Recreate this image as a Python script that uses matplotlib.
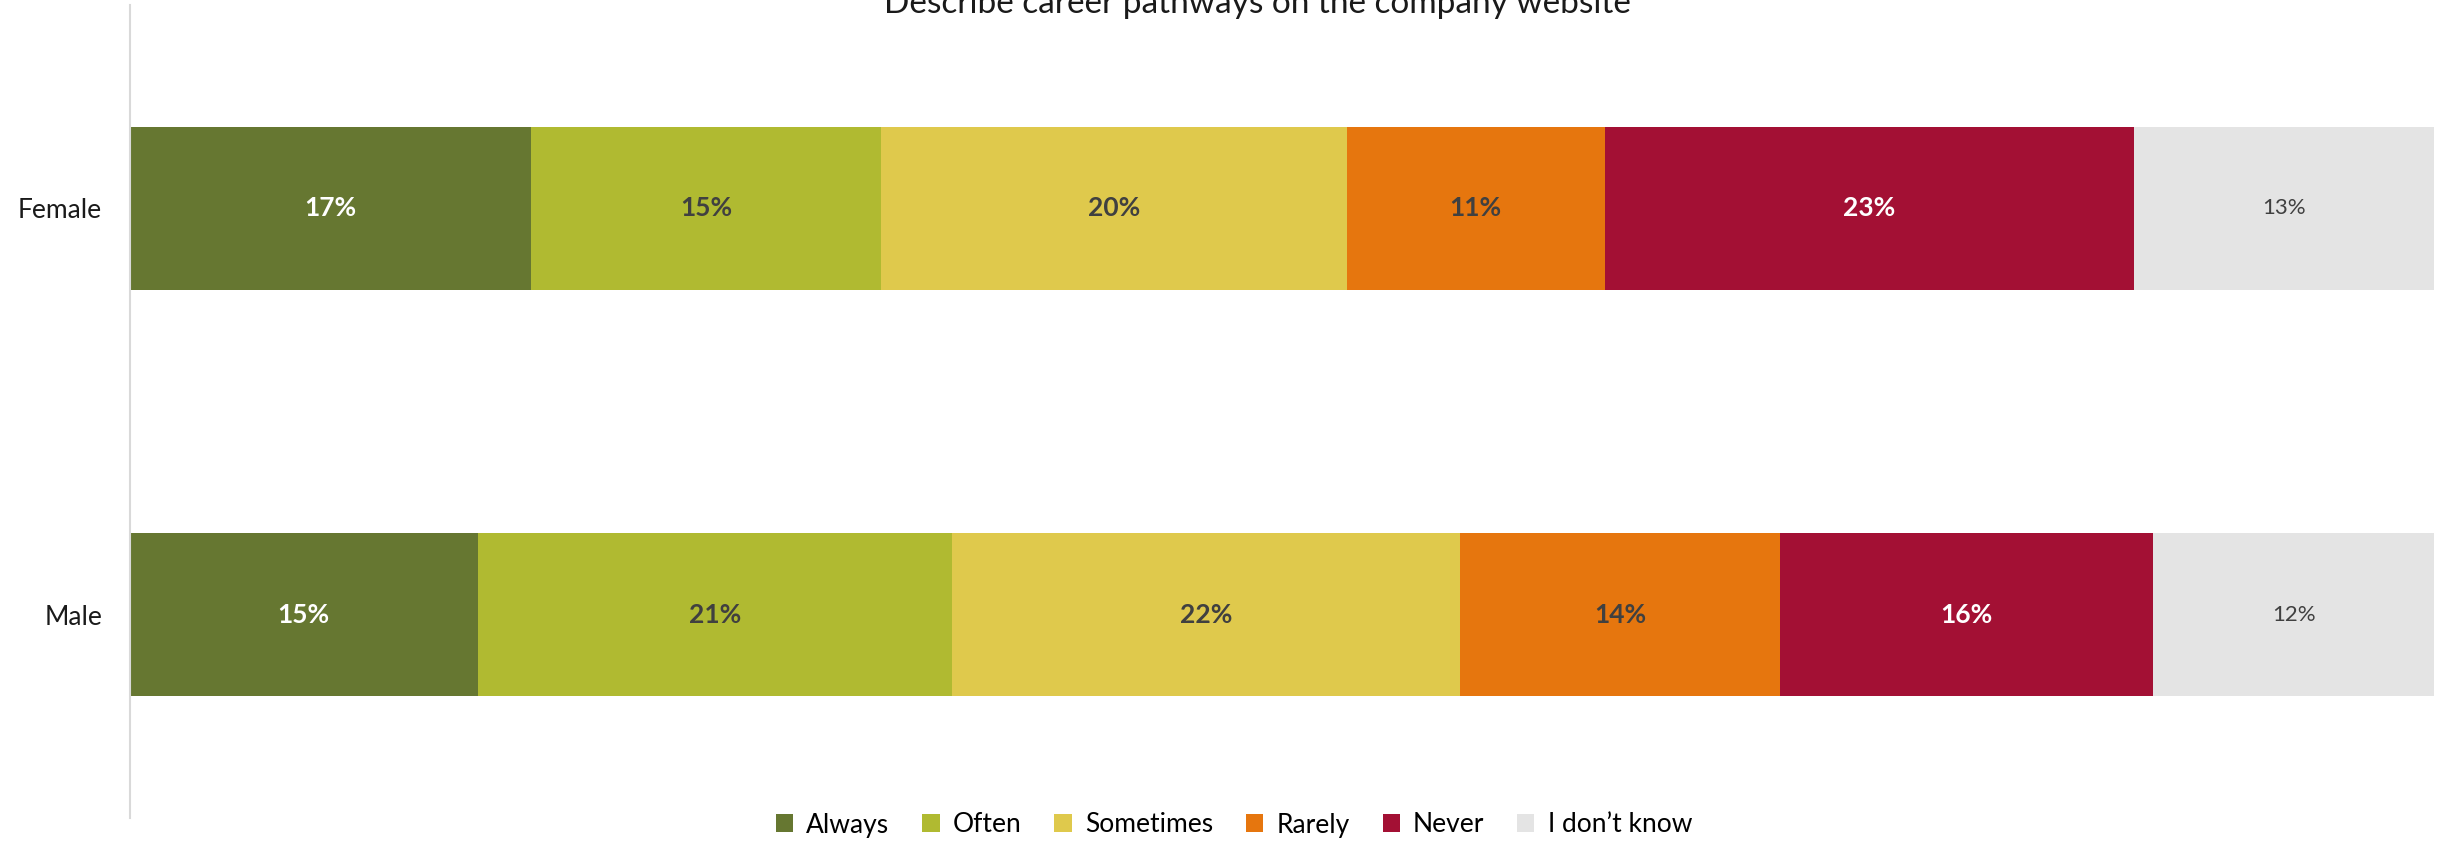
import matplotlib
matplotlib.use("Agg")
import matplotlib.pyplot as plt
import numpy as np

plt.rcParams['font.family'] = ['Lato', 'DejaVu Sans']

title = "Describe career pathways on the company website"
categories = ["Female", "Male"]
series = ["Always", "Often", "Sometimes", "Rarely", "Never", "I don\u2019t know"]
female = [17.4, 15.2, 20.2, 11.2, 23.0, 13.0]
male = [15.1, 20.6, 22.1, 13.9, 16.2, 12.2]
colors = ["#667731", "#B0BA31", "#DFC94C", "#E6760E", "#A31034", "#E4E4E4"]
label_colors = ["white", "#404040", "#404040", "#404040", "white", "#404040"]
label_weights = ["bold", "bold", "bold", "bold", "bold", "normal"]
label_sizes = [19, 19, 19, 19, 19, 16]

data = np.array([female, male])
shares = data / data.sum(axis=1, keepdims=True)

fig = plt.figure(figsize=(24.53, 8.43), dpi=100)
ax = fig.add_axes([130/2453, 1-818/843, (2434-130)/2453, (818-5)/843])

y = np.arange(len(categories))
left = np.zeros(len(categories))
handles = []
for j, name in enumerate(series):
    h = ax.barh(y, shares[:, j], left=left, height=0.4, color=colors[j], label=name)
    handles.append(h)
    for i in range(len(categories)):
        ax.text(left[i] + shares[i, j] / 2, y[i], f"{round(data[i, j]):.0f}%",
                ha="center", va="center", color=label_colors[j],
                fontweight=label_weights[j], fontsize=label_sizes[j])
    left += shares[:, j]

ax.set_xlim(0, 1)
ax.set_ylim(1.5, -0.5)
ax.set_yticks(y)
ax.set_yticklabels(categories, fontsize=19, color="#1a1a1a")
ax.tick_params(axis="y", length=0, pad=20)
ax.set_xticks([])
for s in ["top", "right", "bottom"]:
    ax.spines[s].set_visible(False)
ax.spines["left"].set_color("#D9D9D9")
ax.spines["left"].set_linewidth(1.5)

fig.text(1257/2453, 1-13/843, title, ha="center", va="baseline", fontsize=24, color="#1a1a1a")

fig.legend(handles=handles, labels=series, loc="center", bbox_to_anchor=(1234/2453, 1-825/843),
           ncol=6, frameon=False, fontsize=19, handlelength=0.65, handleheight=0.65,
           handletextpad=0.5, columnspacing=1.25)

fig.savefig("out.png", dpi=100)
